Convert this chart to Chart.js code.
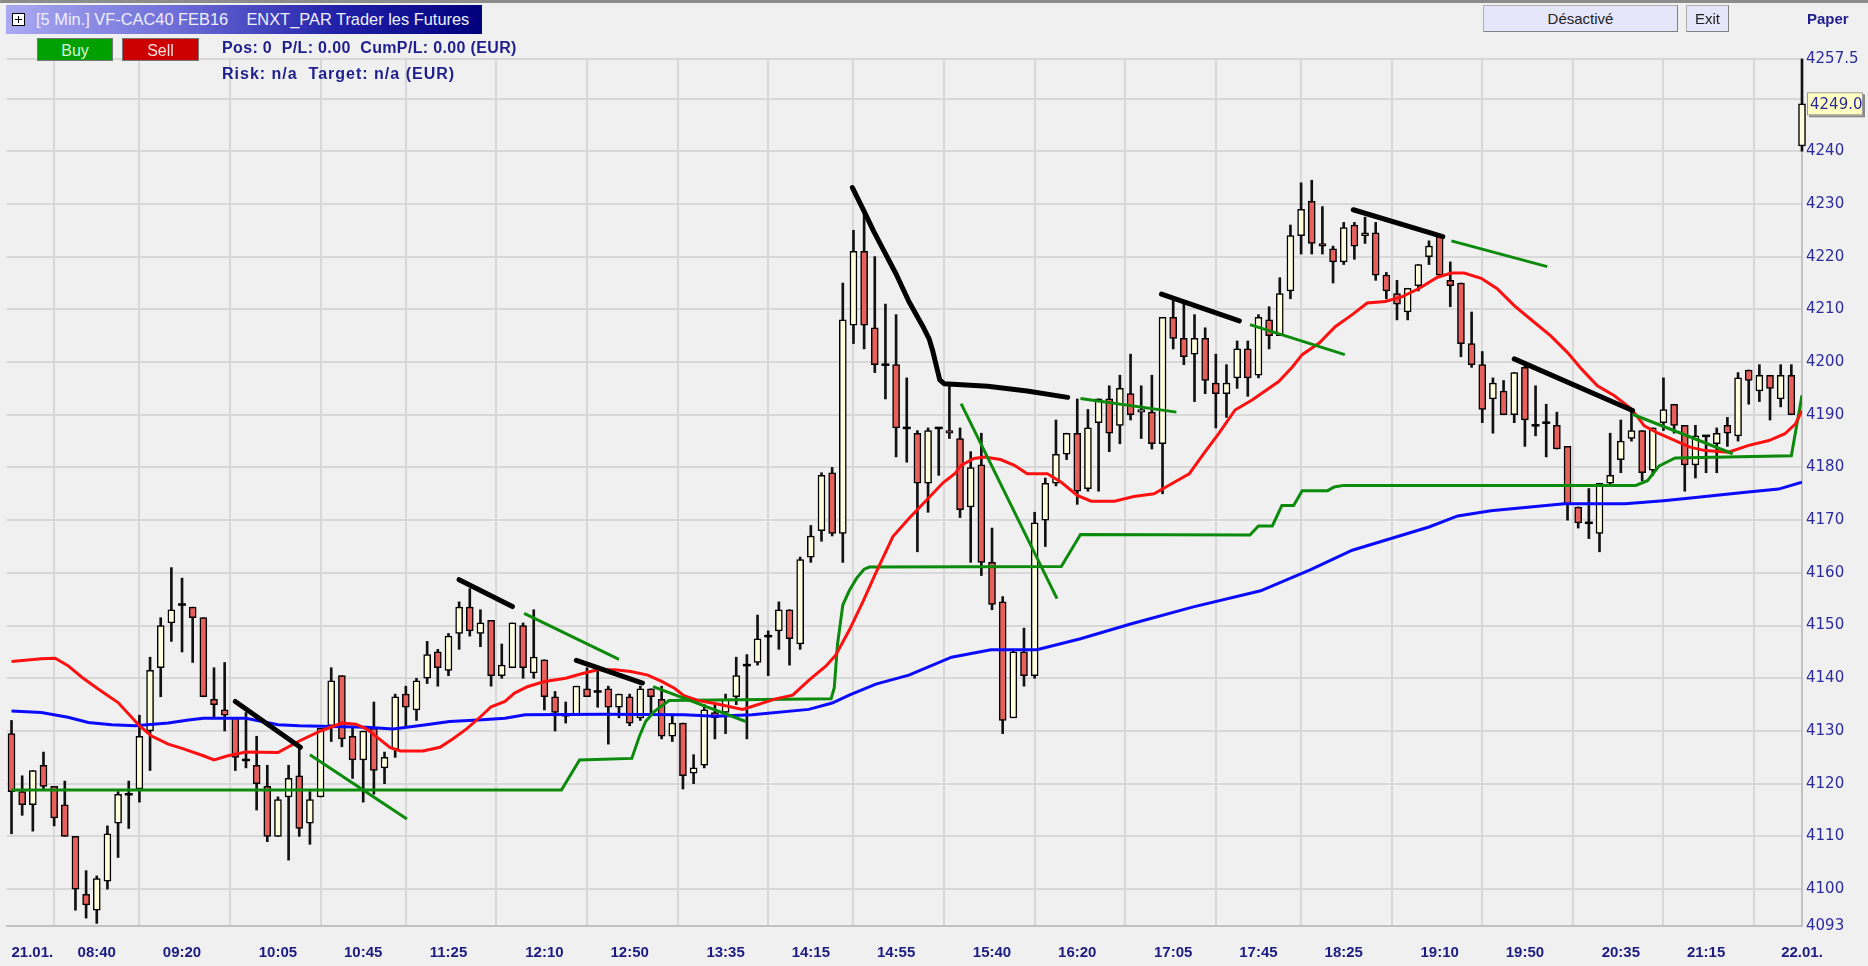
<!DOCTYPE html>
<html>
<head>
<meta charset="utf-8">
<title>VF-CAC40 FEB16 5 Min.</title>
<script src="https://cdn.jsdelivr.net/npm/chart.js@4.4.1/dist/chart.umd.min.js"></script>
<style>
  html, body { margin: 0; padding: 0; background: #f0f0f0; width: 1868px; height: 966px; overflow: hidden; font-family: 'Liberation Sans', Arial, sans-serif; }
  #chart { position: absolute; left: 0; top: 0; }
  .hdr { position: absolute; z-index: 2; white-space: pre; }
  #topline { left: 0; top: 0; width: 1868px; height: 3px; background: #8c8c8c; }
  #title { left: 6px; top: 5px; width: 476px; height: 29px; line-height: 29px; font-size: 16.4px; color: #eef0ff;
           background: linear-gradient(to right, #aaaaf2 0%, #6f6fd8 35%, #2020a8 70%, #00007c 100%); }
  #title .txt { position: absolute; left: 30px; top: 0; }
  #icon { position: absolute; left: 6px; top: 8px; width: 11px; height: 11px; background: #fff; border: 1px solid #000; }
  #icon::before { content: ''; position: absolute; left: 2px; top: 5px; width: 7px; height: 1px; background: #000; }
  #icon::after { content: ''; position: absolute; left: 5px; top: 2px; width: 1px; height: 7px; background: #000; }
  .btn { height: 23px; line-height: 23px; text-align: center; font-size: 15px; border: 1px solid #777; box-sizing: border-box; }
  #buy { left: 37px; top: 38px; width: 76px; background: #00a000; color: #d8f5d8; font-size: 16px; }
  #sell { left: 122px; top: 38px; width: 77px; background: #cc0000; color: #ffe0e0; font-size: 16px; }
  .info { font-weight: bold; font-size: 16px; color: #1e1e8c; }
  #pos { left: 222px; top: 39px; letter-spacing: 0.35px; }
  #risk { left: 222px; top: 65px; letter-spacing: 1px; }
  #deact { left: 1483px; top: 5px; width: 195px; height: 27px; line-height: 26px; background: #e6e6fa; color: #222;
           border: 1px solid #b0b0b0; border-right-color: #808080; border-bottom-color: #808080; }
  #exit { left: 1686px; top: 5px; width: 43px; height: 27px; line-height: 26px; background: #e6e6fa; color: #222;
          border: 1px solid #b0b0b0; border-right-color: #808080; border-bottom-color: #808080; }
  #paper { left: 1807px; top: 10px; font-weight: bold; font-size: 15px; color: #1e1e8c; }
</style>
</head>
<body>
<canvas id="chart" width="1868" height="966"></canvas>
<div class="hdr" id="topline"></div>
<div class="hdr" id="title"><div id="icon"></div><span class="txt">[5 Min.] VF-CAC40 FEB16    ENXT_PAR Trader les Futures</span></div>
<div class="hdr btn" id="buy">Buy</div>
<div class="hdr btn" id="sell">Sell</div>
<div class="hdr info" id="pos">Pos: 0  P/L: 0.00  CumP/L: 0.00 (EUR)</div>
<div class="hdr info" id="risk">Risk: n/a  Target: n/a (EUR)</div>
<div class="hdr btn" id="deact">Désactivé</div>
<div class="hdr btn" id="exit">Exit</div>
<div class="hdr" id="paper">Paper</div>

<script>
// 5 minute bars, index 0 = 21.01. 08:00, index 168 = 22.01. 08:00
const opens = [
  4129.5, 4118.5, 4116, 4123.5, 4119.5, 4116, 4110, 4099, 4096, 4101.5,
  4112.5, 4118, 4119, 4130, 4142, 4150.5, 4154, 4153.5, 4151.5, 4136,
  4134, 4132.5, 4124.5, 4123.5, 4119.5, 4110, 4117.5, 4121.5, 4112.5, 4117.5,
  4131, 4140.5, 4129, 4124.5, 4130.5, 4123, 4126.5, 4137, 4134, 4140,
  4145, 4141.5, 4148.5, 4153.5, 4148.5, 4151, 4140.5, 4142, 4150, 4141,
  4143.5, 4136.5, 4133, 4133, 4138, 4137.5, 4138, 4134.5, 4136.5, 4132.5,
  4138, 4136, 4129, 4131.5, 4122, 4123.5, 4133.5, 4133.5, 4136.5, 4142.5,
  4143, 4148, 4149, 4153, 4146.5, 4163, 4168, 4179, 4167.5, 4207,
  4221, 4206.5, 4199.5, 4199.5, 4187.5, 4186.5, 4177, 4187.5, 4187, 4185.5,
  4172.5, 4180.5, 4162, 4154.5, 4132.5, 4145, 4140.5, 4170, 4177, 4182.5,
  4186.5, 4176, 4188.5, 4193, 4188, 4194, 4190.5, 4190.5, 4184.5, 4208.5,
  4204.5, 4201.5, 4204.5, 4196, 4194, 4197, 4202.5, 4197.5, 4208, 4205,
  4213.5, 4224, 4230.5, 4222.5, 4221.5, 4219, 4226, 4224, 4224.5, 4216.5,
  4213, 4209.5, 4214.5, 4220, 4224, 4215.5, 4215, 4203.5, 4199.5, 4193,
  4194.5, 4190, 4199, 4188, 4188.5, 4188, 4184, 4172.5, 4169.5, 4167.5,
  4177, 4181.5, 4185.5, 4187, 4179.5, 4188.5, 4192, 4188, 4180.5, 4186,
  4184.5, 4188, 4186, 4198.5, 4194.5, 4197.5, 4193, 4197.5, 4241
];
const highs = [
  4132, 4121.5, 4122.5, 4126, 4119.5, 4120.5, 4110, 4103.5, 4102.5, 4112,
  4118.5, 4120.5, 4133, 4144, 4151.5, 4161, 4159, 4153.5, 4151.5, 4142,
  4143, 4132.5, 4133.5, 4129, 4123.5, 4117.5, 4123.5, 4127, 4118.5, 4130.5,
  4142, 4140.5, 4130.5, 4130, 4135.5, 4126, 4137, 4138.5, 4140, 4147,
  4145.5, 4148.5, 4154.5, 4157, 4153, 4151, 4146.5, 4150.5, 4150.5, 4153,
  4143.5, 4137.5, 4135.5, 4138.5, 4142, 4141.5, 4138.5, 4137, 4137, 4138.5,
  4138, 4138.5, 4133, 4131.5, 4125.5, 4135, 4135, 4137, 4144, 4144.5,
  4152, 4149, 4154.5, 4153, 4163, 4169, 4179, 4180, 4215, 4225,
  4229, 4220, 4211, 4209, 4197, 4187, 4187.5, 4187.5, 4195.5, 4187.5,
  4183, 4186.5, 4168.5, 4155.5, 4145.5, 4149.5, 4171.5, 4178, 4189, 4186.5,
  4193, 4191, 4193, 4195.5, 4197.5, 4201.5, 4195.5, 4197.5, 4208.5, 4212,
  4211, 4209, 4206.5, 4201.5, 4199.5, 4204, 4204, 4209, 4210.5, 4216,
  4226, 4234, 4234.5, 4229.5, 4222, 4226.5, 4226.5, 4227.5, 4226.5, 4217,
  4215.5, 4214, 4218.5, 4223, 4224, 4219, 4215, 4209.5, 4202, 4197,
  4196.5, 4198, 4200, 4195.5, 4192, 4190.5, 4184, 4172.5, 4176, 4177,
  4186.5, 4189, 4190.5, 4187, 4187.5, 4197, 4192, 4188, 4188, 4186,
  4187.5, 4189.5, 4198, 4198.5, 4199.5, 4197.5, 4199.5, 4199.5, 4257.5
];
const lows = [
  4110.5, 4114, 4111, 4119, 4112, 4110, 4096, 4094.5, 4093.5, 4100,
  4106, 4111.5, 4116.5, 4122.5, 4136.5, 4147, 4145, 4143, 4136.5, 4132.5,
  4130, 4122.5, 4123, 4115, 4109, 4110, 4105.5, 4110, 4108.5, 4117.5,
  4128, 4127, 4121, 4116.5, 4118, 4120, 4125, 4131, 4132, 4139,
  4138.5, 4140.5, 4145.5, 4148, 4146, 4138.5, 4140, 4142, 4140, 4140,
  4134, 4130, 4131.5, 4133, 4136.5, 4134.5, 4127.5, 4132.5, 4131, 4132,
  4133.5, 4128.5, 4128, 4119, 4120, 4123, 4128.5, 4129.5, 4135, 4128.5,
  4142.5, 4140.5, 4145.5, 4142.5, 4145.5, 4162, 4166, 4167, 4162, 4203.5,
  4202.5, 4198, 4193, 4182, 4181, 4164, 4171.5, 4178.5, 4185.5, 4170.5,
  4162, 4159.5, 4153, 4129.5, 4132.5, 4138.5, 4140, 4165, 4176.5, 4181.5,
  4173, 4175.5, 4175.5, 4183, 4184.5, 4189, 4185.5, 4183.5, 4175, 4202.5,
  4199.5, 4192.5, 4194, 4187.5, 4189.5, 4195, 4193.5, 4197, 4202.5, 4205,
  4212, 4220.5, 4220.5, 4220.5, 4215, 4218.5, 4219.5, 4222.5, 4215.5, 4212,
  4208, 4208, 4213.5, 4218.5, 4216.5, 4210.5, 4201, 4199, 4188.5, 4186.5,
  4190, 4188.5, 4184, 4186, 4182, 4183.5, 4170, 4168.5, 4166.5, 4164,
  4176.5, 4179, 4185, 4177.5, 4178.5, 4187, 4186.5, 4175.5, 4178, 4179,
  4179, 4184, 4185, 4192, 4192.5, 4189, 4191.5, 4190, 4240
];
const closes = [
  4118.5, 4116, 4122.5, 4119.5, 4113.5, 4110, 4100, 4097, 4102, 4110.5,
  4118, 4118, 4129, 4141.5, 4150, 4153, 4154, 4151.5, 4136.5, 4135,
  4133, 4125, 4124.5, 4120, 4110, 4117, 4121, 4111.5, 4117, 4130.5,
  4139.5, 4128.5, 4124.5, 4130, 4122.5, 4125, 4136.5, 4134.5, 4139.5, 4144.5,
  4142, 4148, 4153.5, 4149, 4150.5, 4140.5, 4142.5, 4150.5, 4142, 4144,
  4136.5, 4133.5, 4133, 4138.5, 4136.5, 4137.5, 4134.5, 4137, 4131.5, 4138,
  4136.5, 4129, 4131.5, 4121.5, 4123, 4134, 4132.5, 4136, 4140.5, 4142.5,
  4147.5, 4148, 4153, 4147.5, 4162.5, 4167, 4178.5, 4167.5, 4208, 4221,
  4207, 4199.5, 4199.5, 4187.5, 4187.5, 4177, 4187, 4187.5, 4186.5, 4172,
  4180, 4162, 4154, 4132, 4145, 4140.5, 4169.5, 4177, 4182.5, 4186.5,
  4175.5, 4187.5, 4193, 4186.5, 4195, 4190, 4191, 4184.5, 4208.5, 4204.5,
  4201, 4204.5, 4196.5, 4194, 4196, 4202.5, 4197, 4208.5, 4205, 4213,
  4224, 4229, 4222.5, 4222, 4219, 4225.5, 4222, 4224.5, 4216.5, 4213.5,
  4211, 4214, 4218.5, 4222, 4216.5, 4214.5, 4203.5, 4199.5, 4191, 4196,
  4190, 4198, 4189, 4188, 4188.5, 4183.5, 4173, 4169.5, 4169.5, 4177,
  4178.5, 4185, 4187, 4179, 4187.5, 4191, 4188, 4180.5, 4186, 4186,
  4186.5, 4186.5, 4197, 4196.5, 4197.5, 4195, 4197.5, 4190, 4249
];

// time axis labels (bar index -> text)
const tickIdx = [0, 8, 16, 25, 33, 41, 50, 58, 67, 75, 83, 92, 100, 109, 117, 125, 134, 142, 151, 159, 168];
const tickLabels = ['21.01.', '08:40', '09:20', '10:05', '10:45', '11:25', '12:10', '12:50', '13:35', '14:15',
  '14:55', '15:40', '16:20', '17:05', '17:45', '18:25', '19:10', '19:50', '20:35', '21:15', '22.01.'];

// price axis
const yTicks = [4093, 4100, 4110, 4120, 4130, 4140, 4150, 4160, 4170, 4180, 4190, 4200, 4210, 4220, 4230, 4240, 4250, 4257.5];
const yTickLabels = ['4093', '4100', '4110', '4120', '4130', '4140', '4150', '4160', '4170', '4180', '4190', '4200',
  '4210', '4220', '4230', '4240', '', '4257.5'];
const lastPrice = 4249.0;

// red moving average
const redIdx = [0, 2.8, 4.1, 5.3, 6.6, 8.1, 10, 12, 13.1, 14.7, 16, 18, 19, 20.3, 22, 25, 27, 29, 31, 32.3,
  33.3, 34.5, 35.5, 36.5, 38.6, 40.2, 41.4, 42.7, 44, 45, 46.3, 47.2, 48.4, 50, 52, 53.4, 55, 56.6, 58.1, 59.7,
  61, 62.2, 63.1, 64.4, 66, 68.6, 71.7, 73.3, 74.8, 76.4, 77.3, 78.6, 79.9, 81.1, 82.7, 84.2, 85.8, 87.4, 88.5, 89.1,
  90.3, 91.3, 92.8, 94.1, 95.3, 97.2, 98.5, 100, 101.3, 103.5, 105.3, 107.2, 109.1, 110.5, 112, 113.3, 114.8, 116.4, 118.9, 120.2,
  121.1, 122.7, 124.2, 125.8, 127.2, 128.9, 130.5, 132.1, 133.8, 135.1, 136.3, 137.9, 139.4, 141, 142.9, 144.4, 146, 147.3, 148.8, 150.4,
  152, 153.2, 154.5, 156.1, 157.4, 158.9, 161.1, 163, 164.9, 166.4, 167.4, 168];
const redVal = [4143.2, 4143.7, 4143.8, 4142.4, 4140.2, 4138, 4135.4, 4131, 4129.1, 4127.5, 4126.7, 4125.3, 4124.5, 4125.3, 4126, 4125.9, 4128.1, 4130, 4131.5, 4131.3,
  4130.4, 4128.5, 4126.9, 4126.2, 4126.2, 4126.9, 4128.5, 4130.4, 4132.7, 4134.6, 4135.6, 4137.2, 4138.4, 4139.4, 4140, 4140.8, 4141.6, 4141.6, 4141.3, 4140.6,
  4139.4, 4138.1, 4136.7, 4135.8, 4135.2, 4134.1, 4136.1, 4136.8, 4139.6, 4142.3, 4144.3, 4149.1, 4154.6, 4160, 4166.9, 4170.3, 4173.7, 4177.1, 4178.8, 4180.4,
  4181.7, 4182, 4181.5, 4180.4, 4178.8, 4178.8, 4177.2, 4174.7, 4173.6, 4173.6, 4174.5, 4175, 4177.2, 4178.8, 4183, 4186.5, 4190.9, 4192.8, 4196.3, 4199.1,
  4201.4, 4203.6, 4206.7, 4209, 4211.2, 4211.5, 4212.4, 4214, 4216.1, 4216.9, 4216.9, 4215.9, 4213.9, 4210.7, 4207.5, 4205, 4201.8, 4198.7, 4195.5, 4193.6,
  4191.1, 4187.9, 4186.5, 4185.1, 4183.9, 4183.2, 4182.9, 4184.2, 4185.1, 4186.4, 4188.3, 4190.8];

// blue slow average
const blueIdx = [0, 2.8, 5.3, 7.2, 9.4, 11.6, 14.7, 16.6, 18, 22, 25, 27, 33.3, 35.8, 38.9, 41.1, 43.8, 46.3, 48.2, 55.6,
  63.1, 66, 69.5, 74.8, 77, 78.6, 81.1, 84.2, 88.2, 91.9, 96.2, 100.3, 105, 110.8, 117.2, 121.9, 125.8, 133, 135.7, 138.8,
  142, 145.7, 151.4, 155, 158, 162.7, 165.8, 168];
const blueVal = [4133.8, 4133.5, 4132.6, 4131.6, 4131.2, 4131, 4131.5, 4132.1, 4132.4, 4132.4, 4131.2, 4131, 4130.7, 4130.4, 4131.2, 4131.8, 4132.1, 4132.4, 4133.1, 4133.2,
  4133.1, 4132.8, 4133.1, 4134.1, 4135.3, 4136.8, 4138.9, 4140.6, 4144, 4145.4, 4145.4, 4147.5, 4150.3, 4153.5, 4156.6, 4160.6, 4164.3, 4168.7, 4170.8, 4171.8,
  4172.4, 4173.1, 4173.1, 4173.7, 4174.3, 4175.3, 4175.9, 4177.2];

// green trailing stop (steps)
const stopIdx = [0, 51.6, 53.3, 58.2, 58.9, 59.5, 60.3, 61.7, 76.9, 77.2, 77.5, 78, 78.6, 79.3, 80, 80.5, 98.5, 100.3, 116.2, 117,
  118.3, 119.2, 120.3, 121.1, 123.5, 124.1, 125, 152.4, 153.5, 154.6, 156.1, 167, 168];
const stopVal = [4118.8, 4118.8, 4124.5, 4124.8, 4128.9, 4131.8, 4133.7, 4135.8, 4136.1, 4138.2, 4146.4, 4153.9, 4156.6, 4159, 4160.7, 4161.1, 4161.2, 4167.3, 4167.2, 4168.9,
  4168.9, 4172.8, 4172.8, 4175.6, 4175.6, 4176.3, 4176.6, 4176.6, 4177.5, 4180.3, 4181.8, 4182.2, 4193.7];

// trend lines: [barIndex, price] pairs
const blackLines = [
  [[21, 4135.6], [27.1, 4126.9]],
  [[42, 4158.7], [47, 4153.6]],
  [[53, 4143.4], [59.2, 4139.1]],
  [[78.9, 4233.1], [80, 4228.6], [80.9, 4224.8], [81.7, 4221.7], [83, 4216.7], [84.2, 4211.5], [85.5, 4206.8], [86.1, 4204.4],
   [86.4, 4202.4], [87.1, 4196.6], [87.5, 4195.9], [91.6, 4195.4], [95.3, 4194.5], [99.1, 4193.3]],
  [[107.9, 4212.9], [115.2, 4207.8]],
  [[125.9, 4228.9], [134.3, 4223.8]],
  [[141, 4200.6], [152.1, 4190.8]]
];
const greenLines = [
  [[28, 4125.5], [37.1, 4113.3]],
  [[48.1, 4152.3], [57, 4143.6]],
  [[60.2, 4138.4], [68.9, 4131.8]],
  [[89.1, 4192.1], [98.1, 4155.1]],
  [[100.3, 4193.1], [109.3, 4190.5]],
  [[116.2, 4207.1], [125.1, 4201.4]],
  [[135.1, 4223], [144.1, 4218.1]],
  [[152.1, 4190.1], [161.5, 4182.6]]
];

const bullFill = '#ffffde';
const bearFill = '#e8605c';

const bars = opens.map((o, i) => i);
const wickData = bars.map(i => ({ x: i, y: [lows[i], highs[i]] }));
const bodyData = bars.map(i => ({ x: i, y: [opens[i], closes[i]] }));
const bodyColors = bars.map(i => closes[i] >= opens[i] ? bullFill : bearFill);
const dojiData = bars.filter(i => Math.abs(closes[i] - opens[i]) < 0.3).map(i => ({ x: i, y: closes[i] }));

function lineSet(idx, val, color, width, order) {
  return {
    type: 'line',
    data: idx.map((x, k) => ({ x: x, y: val[k] })),
    borderColor: color,
    borderWidth: width,
    pointRadius: 0,
    tension: 0,
    fill: false,
    order: order
  };
}

const datasets = [
  {
    type: 'bar', label: 'wick', data: wickData, backgroundColor: '#111',
    barThickness: 2, grouped: false, order: 9, clip: false
  },
  {
    type: 'bar', label: 'body', data: bodyData, backgroundColor: bodyColors,
    borderColor: '#000', borderWidth: 1.5, borderSkipped: false,
    barThickness: 7, grouped: false, order: 8, clip: false
  },
  {
    type: 'line', label: 'doji', data: dojiData, showLine: false,
    pointStyle: 'line', pointRadius: 4, pointBorderWidth: 2.5, pointBorderColor: '#000', order: 7, clip: false
  },
  lineSet(blueIdx, blueVal, '#0a0aff', 3, 4),
  lineSet(stopIdx, stopVal, '#0b8a0b', 3, 3),
  lineSet(redIdx, redVal, '#ff1010', 3, 2)
];
greenLines.forEach(seg => {
  datasets.push(lineSet(seg.map(p => p[0]), seg.map(p => p[1]), '#0b8a0b', 3, 1));
});
blackLines.forEach(seg => {
  const ds = lineSet(seg.map(p => p[0]), seg.map(p => p[1]), '#000', 5, 0);
  ds.borderCapStyle = 'round';
  ds.borderJoinStyle = 'round';
  datasets.push(ds);
});

// time labels and last price box
const extras = {
  id: 'extras',
  afterDraw(chart) {
    const ctx = chart.ctx;
    const xs = chart.scales.x, ys = chart.scales.y;
    ctx.save();
    ctx.font = 'bold 15px "Liberation Sans", Arial, sans-serif';
    ctx.fillStyle = '#1c1c80';
    ctx.textBaseline = 'middle';
    tickIdx.forEach((v, k) => {
      const px = xs.getPixelForValue(v);
      if (k === 0) {
        ctx.textAlign = 'left';
        ctx.fillText(tickLabels[k], px, 953);
      } else {
        ctx.textAlign = 'center';
        ctx.fillText(tickLabels[k], px, 953);
      }
    });

    // current price box
    const py = ys.getPixelForValue(lastPrice);
    const bx = 1807, bw = 56, bh = 23;
    ctx.fillStyle = '#8a8a8a';
    ctx.fillRect(bx + 2, py - bh / 2 + 2, bw, bh);
    ctx.fillStyle = '#ffffc4';
    ctx.fillRect(bx, py - bh / 2, bw, bh);
    ctx.strokeStyle = '#9a9a9a';
    ctx.lineWidth = 1;
    ctx.strokeRect(bx + 0.5, py - bh / 2 + 0.5, bw - 1, bh - 1);
    ctx.font = '15px "DejaVu Sans", Verdana, sans-serif';
    ctx.fillStyle = '#2a2a9c';
    ctx.textAlign = 'left';
    ctx.fillText(lastPrice.toFixed(1), bx + 3, py + 1);
    ctx.restore();
  }
};

new Chart(document.getElementById('chart'), {
  type: 'bar',
  data: { datasets: datasets },
  options: {
    responsive: false,
    animation: false,
    devicePixelRatio: 1,
    layout: { padding: { left: 5, top: 59, right: 0, bottom: 0 } },
    plugins: { legend: { display: false }, tooltip: { enabled: false } },
    scales: {
      x: {
        type: 'linear',
        min: -0.47,
        max: 168,
        offset: false,
        afterBuildTicks: scale => { scale.ticks = tickIdx.map(v => ({ value: v })); },
        afterFit: scale => { scale.height = 40; },
        ticks: { display: false },
        grid: { color: '#d8d8d8', lineWidth: 2, drawTicks: false },
        border: { display: true, color: '#c2c2c2', width: 2 }
      },
      y: {
        position: 'right',
        min: 4093,
        max: 4257.5,
        afterBuildTicks: scale => { scale.ticks = yTicks.map(v => ({ value: v })); },
        afterFit: scale => { scale.width = 66; },
        ticks: {
          padding: 4,
          color: '#2a2a9c',
          font: { family: '"DejaVu Sans", Verdana, sans-serif', size: 15 },
          callback: (v) => {
            const k = yTicks.indexOf(v);
            return k >= 0 ? yTickLabels[k] : '';
          }
        },
        grid: { color: '#d8d8d8', lineWidth: 2, drawTicks: false },
        border: { display: true, color: '#c2c2c2', width: 2 }
      }
    }
  },
  plugins: [extras]
});
</script>
</body>
</html>
